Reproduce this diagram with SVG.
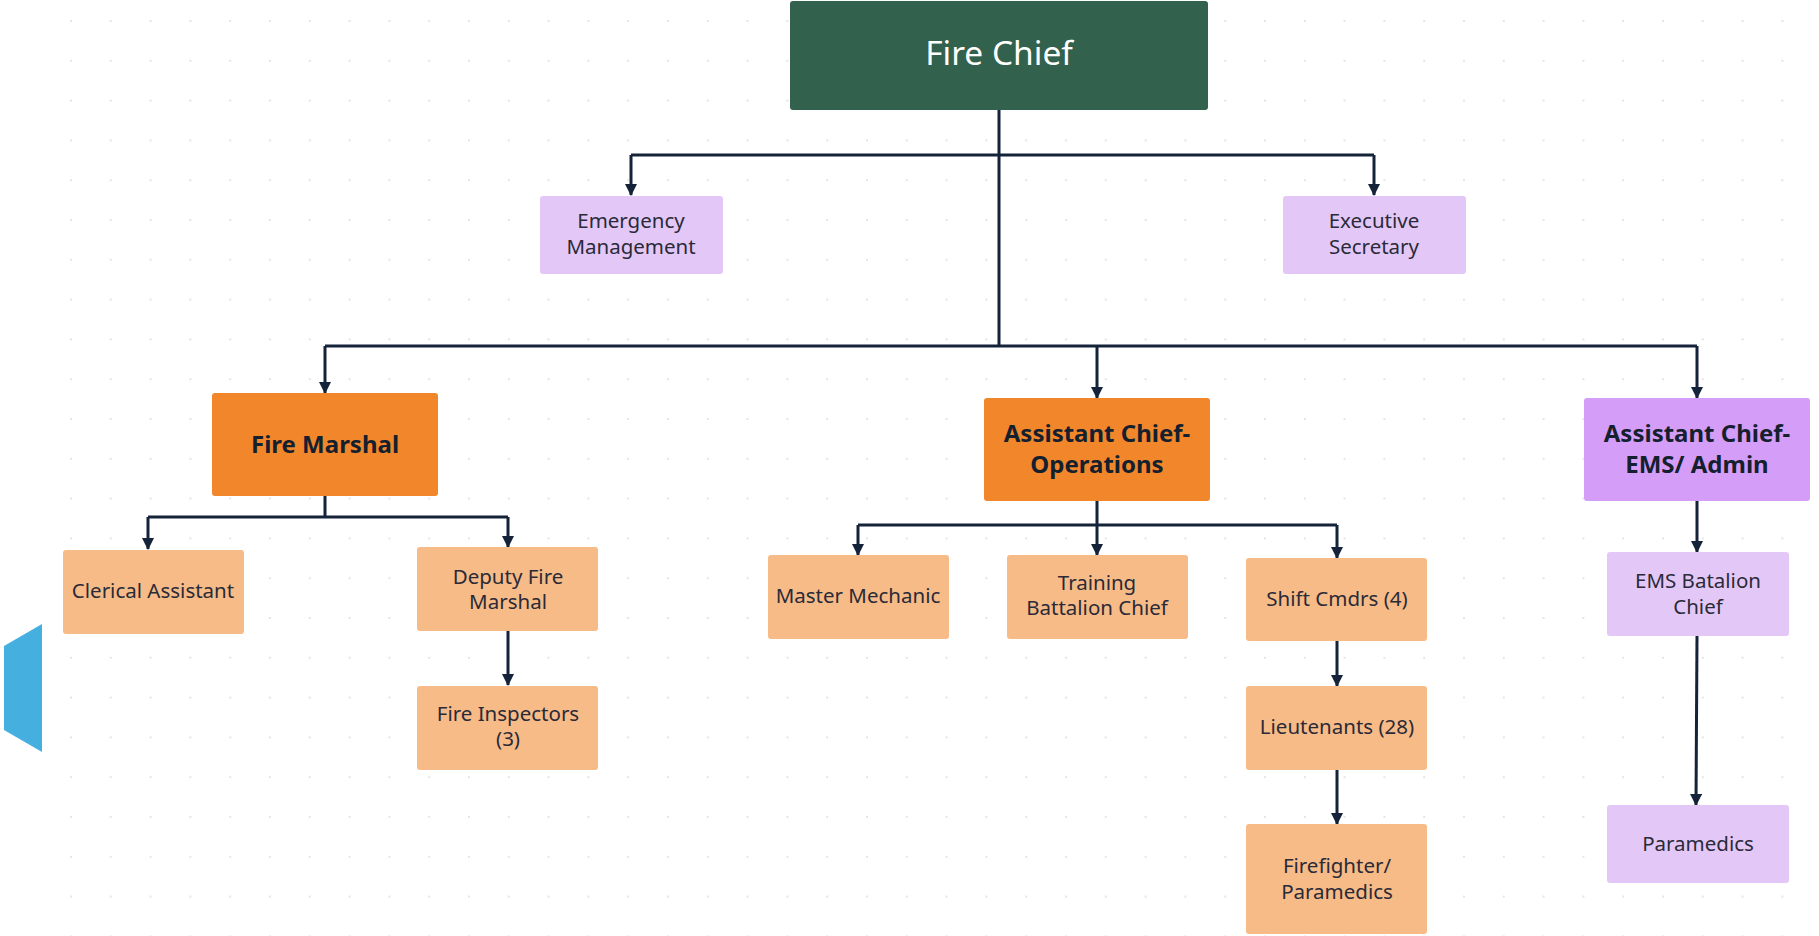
<svg xmlns="http://www.w3.org/2000/svg" width="1819" height="936" viewBox="0 0 1819 936">
<defs>
<pattern id="dots" x="69" y="19" width="39.8" height="39.8" patternUnits="userSpaceOnUse">
<circle cx="2" cy="2" r="1.1" fill="#dcdfe3"/>
</pattern>
<marker id="arr" viewBox="0 0 12 12" refX="11" refY="6" markerWidth="12" markerHeight="12" markerUnits="userSpaceOnUse" orient="auto">
<path d="M0,0 L12,6 L0,12 Z" fill="#15233a"/>
</marker>
<style>
.ln{fill:none;stroke:#15233a;stroke-width:3;}
.t{font-family:"Noto Sans","Open Sans",sans-serif;font-size:20.5px;fill:#2a2a38;text-anchor:middle;dominant-baseline:central;}
.b{font-family:"Noto Sans","Open Sans",sans-serif;font-size:24px;font-weight:bold;fill:#15202e;text-anchor:middle;dominant-baseline:central;}
.lav{fill:#e3c8f7;}
.lor{fill:#f7bb87;}
.or{fill:#f2862b;}
.pur{fill:#d49df7;}
</style>
</defs>
<rect width="1819" height="936" fill="#ffffff"/>
<rect x="60" y="10" width="1745" height="926" fill="url(#dots)"/>
<polygon points="42,624 4,646 4,730 42,752" fill="#45b0e0"/>
<g id="connectors">
<path class="ln" d="M999,110 V346"/>
<path class="ln" d="M631,155 H1374"/>
<path class="ln" d="M631,155 V195" marker-end="url(#arr)"/>
<path class="ln" d="M1374,155 V195" marker-end="url(#arr)"/>
<path class="ln" d="M325,346 H1697"/>
<path class="ln" d="M325,346 V393" marker-end="url(#arr)"/>
<path class="ln" d="M1097,346 V398" marker-end="url(#arr)"/>
<path class="ln" d="M1697,346 V398" marker-end="url(#arr)"/>
<path class="ln" d="M325,496 V517 M148,517 H508"/>
<path class="ln" d="M148,517 V549" marker-end="url(#arr)"/>
<path class="ln" d="M508,517 V547" marker-end="url(#arr)"/>
<path class="ln" d="M508,631 V685" marker-end="url(#arr)"/>
<path class="ln" d="M1097,501 V525 M858,525 H1337"/>
<path class="ln" d="M858,525 V555" marker-end="url(#arr)"/>
<path class="ln" d="M1097,525 V555" marker-end="url(#arr)"/>
<path class="ln" d="M1337,525 V558" marker-end="url(#arr)"/>
<path class="ln" d="M1337,641 V686" marker-end="url(#arr)"/>
<path class="ln" d="M1337,770 V824" marker-end="url(#arr)"/>
<path class="ln" d="M1697,501 V552" marker-end="url(#arr)"/>
<path class="ln" d="M1697,636 L1696,805" marker-end="url(#arr)"/>
</g>
<g id="fire-chief">
<rect x="790" y="1" width="418" height="109" rx="3" fill="#32614d"/>
<text x="999" y="52" font-family="Noto Sans, sans-serif" font-size="33.5" fill="#ffffff" text-anchor="middle" dominant-baseline="central">Fire Chief</text>
</g>
<g id="emergency-management">
<rect class="lav" x="540" y="196" width="183" height="78" rx="3"/>
<text class="t" x="631" y="220">Emergency</text>
<text class="t" x="631" y="246">Management</text>
</g>
<g id="executive-secretary">
<rect class="lav" x="1283" y="196" width="183" height="78" rx="3"/>
<text class="t" x="1374" y="220">Executive</text>
<text class="t" x="1374" y="246">Secretary</text>
</g>
<g id="fire-marshal">
<rect class="or" x="212" y="393" width="226" height="103" rx="3"/>
<text class="b" x="325" y="443">Fire Marshal</text>
</g>
<g id="assistant-chief-operations">
<rect class="or" x="984" y="398" width="226" height="103" rx="3"/>
<text class="b" x="1097" y="432">Assistant Chief-</text>
<text class="b" x="1097" y="463">Operations</text>
</g>
<g id="assistant-chief-ems">
<rect class="pur" x="1584" y="398" width="226" height="103" rx="3"/>
<text class="b" x="1697" y="432">Assistant Chief-</text>
<text class="b" x="1697" y="463">EMS/ Admin</text>
</g>
<g id="clerical-assistant">
<rect class="lor" x="63" y="550" width="181" height="84" rx="3"/>
<text class="t" x="153" y="590">Clerical Assistant</text>
</g>
<g id="deputy-fire-marshal">
<rect class="lor" x="417" y="547" width="181" height="84" rx="3"/>
<text class="t" x="508" y="576">Deputy Fire</text>
<text class="t" x="508" y="601">Marshal</text>
</g>
<g id="fire-inspectors">
<rect class="lor" x="417" y="686" width="181" height="84" rx="3"/>
<text class="t" x="508" y="713">Fire Inspectors</text>
<text class="t" x="508" y="738">(3)</text>
</g>
<g id="master-mechanic">
<rect class="lor" x="768" y="555" width="181" height="84" rx="3"/>
<text class="t" x="858" y="595">Master Mechanic</text>
</g>
<g id="training-battalion-chief">
<rect class="lor" x="1007" y="555" width="181" height="84" rx="3"/>
<text class="t" x="1097" y="582">Training</text>
<text class="t" x="1097" y="607">Battalion Chief</text>
</g>
<g id="shift-cmdrs">
<rect class="lor" x="1246" y="558" width="181" height="83" rx="3"/>
<text class="t" x="1337" y="598">Shift Cmdrs (4)</text>
</g>
<g id="lieutenants">
<rect class="lor" x="1246" y="686" width="181" height="84" rx="3"/>
<text class="t" x="1337" y="726">Lieutenants (28)</text>
</g>
<g id="firefighter-paramedics">
<rect class="lor" x="1246" y="824" width="181" height="110" rx="3"/>
<text class="t" x="1337" y="865">Firefighter/</text>
<text class="t" x="1337" y="891">Paramedics</text>
</g>
<g id="ems-batalion-chief">
<rect class="lav" x="1607" y="552" width="182" height="84" rx="3"/>
<text class="t" x="1698" y="580">EMS Batalion</text>
<text class="t" x="1698" y="606">Chief</text>
</g>
<g id="paramedics">
<rect class="lav" x="1607" y="805" width="182" height="78" rx="3"/>
<text class="t" x="1698" y="843">Paramedics</text>
</g>
</svg>
